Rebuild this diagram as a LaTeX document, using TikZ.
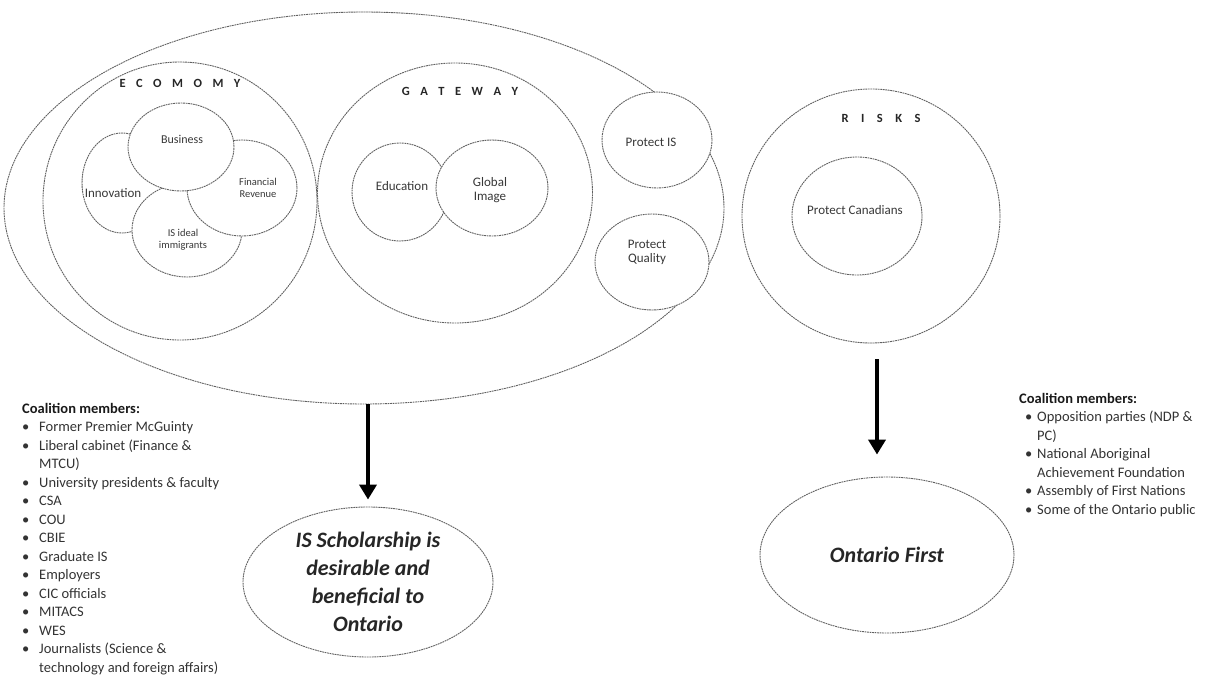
\documentclass[tikz,border=0pt]{standalone}
\usepackage{fontspec}
\setmainfont{Carlito}
\usetikzlibrary{shapes.geometric,arrows.meta}

\newcommand\gapk{\kern10.5pt}

\tikzset{
  ring/.style={ellipse, draw=black!62, line width=0.9pt,
    dash pattern=on 1.8pt off 0.7pt, fill=white, inner sep=0pt},
  lbl/.style={text=black!78, align=center, inner sep=0pt,
    font=\fontsize{13}{14}\selectfont},
  smalllbl/.style={lbl, font=\fontsize{10.5}{12}\selectfont},
  head/.style={text=black!85, inner sep=0pt,
    font=\fontsize{12.5}{13}\selectfont\bfseries},
  verdict/.style={text=black!85, align=center, inner sep=0pt,
    font=\fontsize{22}{28}\selectfont\bfseries\itshape},
  listtext/.style={text=black!80, inner sep=0pt, anchor=north west,
    font=\fontsize{14.5}{18.5}\selectfont},
  bigarrow/.style={line width=4pt, -{Triangle[length=15pt,width=17pt]}},
}

\begin{document}
\begin{tikzpicture}[x=1pt,y=-1pt]
\useasboundingbox (0,0) rectangle (1212,680);

% outer frame holding the two arguments in favour
\node[ring, minimum width=720pt, minimum height=392pt] (outer) at (364,208) {};

% economy cluster
\node[ring, minimum width=274pt, minimum height=278pt] (economy) at (180,201) {};
\node[head] (economyhead) at (180,83) {E\gapk C\gapk O\gapk M\gapk O\gapk M\gapk Y};
\node[ring, minimum width=80pt, minimum height=100pt] (innov) at (122,183) {};
\node[ring, minimum width=110pt, minimum height=94pt] (immig) at (187,230) {};
\node[ring, minimum width=110pt, minimum height=96pt] (revenue) at (242,188) {};
\node[ring, minimum width=106pt, minimum height=88pt] (business) at (181,147) {};
\node[lbl, font=\fontsize{12}{13}\selectfont] (businesslbl) at (182,139) {Business};
\node[lbl] (innovlbl) at (113,193) {Innovation};
\node[smalllbl] (revenuelbl) at (258,188) {Financial\\Revenue};
\node[smalllbl] (immiglbl) at (183,240) {IS ideal\\immigrants};

% gateway cluster
\node[ring, minimum width=275pt, minimum height=260pt] (gateway) at (455,193) {};
\node[head] (gatewayhead) at (460,91) {G\gapk A\gapk T\gapk E\gapk W\gapk A\gapk Y};
\node[ring, minimum width=96pt, minimum height=98pt] (educ) at (400,192) {};
\node[ring, minimum width=112pt, minimum height=96pt] (global) at (492,188) {};
\node[lbl] (educlbl) at (402,186) {Education};
\node[lbl] (globallbl) at (490,190) {Global\\Image};

% protection circles on the rim
\node[ring, minimum width=110pt, minimum height=96pt] (protis) at (657,140) {};
\node[lbl] (protislbl) at (651,142) {Protect IS};
\node[ring, minimum width=114pt, minimum height=96pt] (protq) at (652,262) {};
\node[lbl] (protqlbl) at (647,252) {Protect\\Quality};

% risks cluster
\node[ring, minimum width=258pt, minimum height=254pt] (risks) at (871,216) {};
\node[head] (riskshead) at (881,118) {R\gapk\kern2pt I\gapk\kern2pt S\gapk\kern2pt K\gapk\kern2pt S};
\node[ring, minimum width=130pt, minimum height=118pt] (protcan) at (857,216) {};
\node[lbl] (protcanlbl) at (855,210) {Protect Canadians};

% conclusions
\node[ring, minimum width=250pt, minimum height=150pt] (schol) at (368,582) {};
\node[verdict] (schollbl) at (368,582) {IS Scholarship is\\desirable and\\beneficial to\\Ontario};
\node[ring, minimum width=254pt, minimum height=156pt] (ontario) at (887,555) {};
\node[verdict] (ontariolbl) at (887,555) {Ontario First};

% arrows
\draw[bigarrow, shorten >=7pt] (outer.south -| schol.north) -- (schol.north);
\coordinate (rstart) at (877,359);
\draw[bigarrow, shorten >=22pt] (rstart) -- (rstart |- ontario.north);

% coalition lists
\node[listtext] (leftlist) at (22,400) {%
\begin{tabular}{@{}p{17pt}@{}l@{}}
\multicolumn{2}{@{}l@{}}{\color{black!90}\bfseries Coalition members:}\\
• & Former Premier McGuinty\\
• & Liberal cabinet (Finance \&\\
  & MTCU)\\
• & University presidents \& faculty\\
• & CSA\\
• & COU\\
• & CBIE\\
• & Graduate IS\\
• & Employers\\
• & CIC officials\\
• & MITACS\\
• & WES\\
• & Journalists (Science \&\\
  & technology and foreign affairs)
\end{tabular}};

\node[listtext] (rightlist) at (1019,390) {%
\begin{tabular}{@{}p{18pt}@{}l@{}}
\multicolumn{2}{@{}l@{}}{\color{black!90}\bfseries Coalition members:}\\
\hspace{6pt}• & Opposition parties (NDP \&\\
  & PC)\\
\hspace{6pt}• & National Aboriginal\\
  & Achievement Foundation\\
\hspace{6pt}• & Assembly of First Nations\\
\hspace{6pt}• & Some of the Ontario public
\end{tabular}};

\end{tikzpicture}
\end{document}
